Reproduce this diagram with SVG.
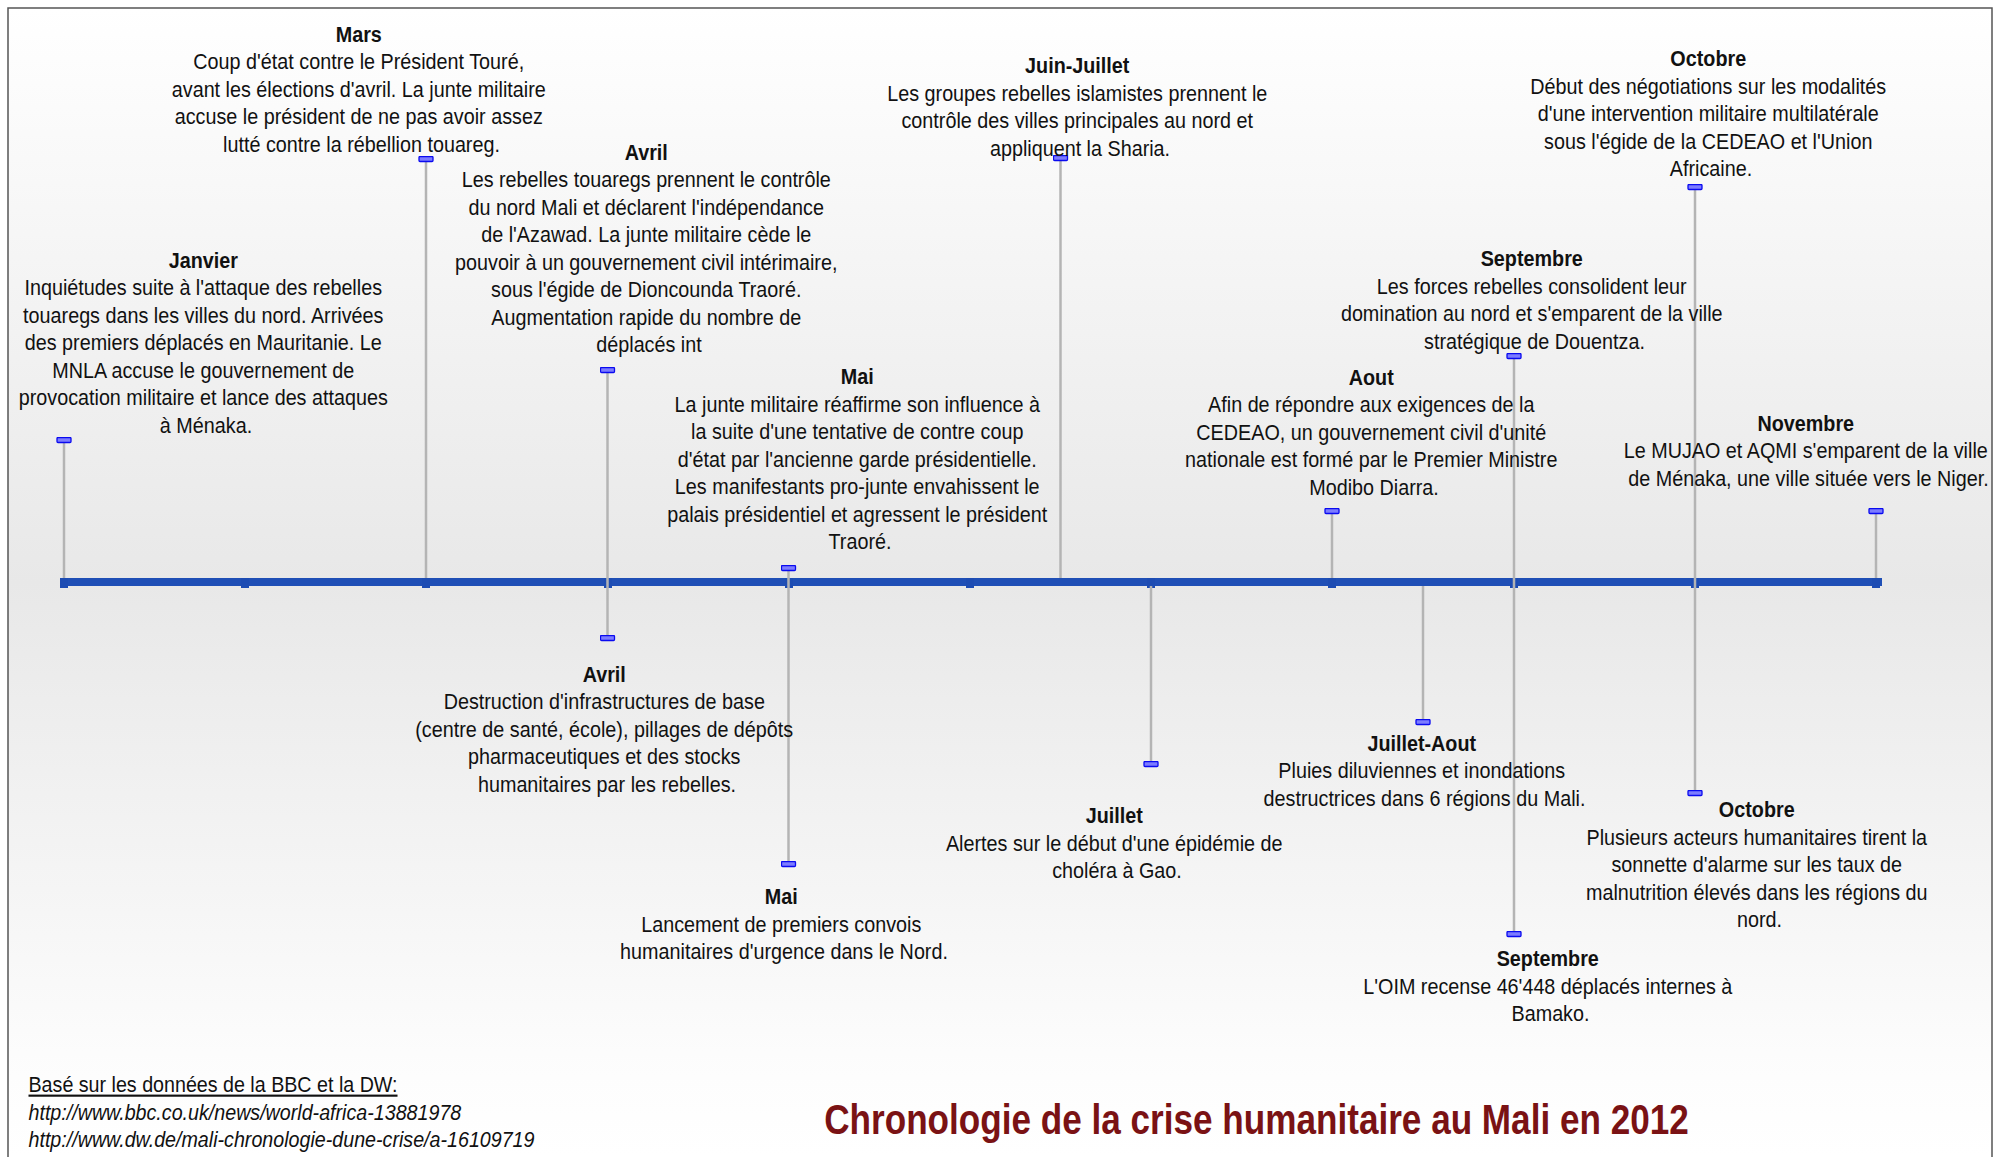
<svg xmlns="http://www.w3.org/2000/svg" width="2000" height="1157" viewBox="0 0 2000 1157">
<style>
text{font-family:"Liberation Sans",Arial,sans-serif;fill:#111;}
.b{font-size:21.5px;text-anchor:middle;}
.h{font-weight:bold;}
.stem{stroke:#b4b4b4;stroke-width:2.5;marker-end:url(#cap);}
.tick{fill:#1d4cb3;}
.ft{font-size:21.5px;}
.it{font-style:italic;}
.title{font-size:43px;font-weight:bold;fill:#7a1214;text-anchor:middle;}
</style>
<defs>
<linearGradient id="bg" gradientUnits="userSpaceOnUse" x1="0" y1="8" x2="0" y2="1157">
<stop offset="0" stop-color="#ffffff"/>
<stop offset="0.5" stop-color="#e8e8e8"/>
<stop offset="0.93" stop-color="#fdfdfd"/>
<stop offset="1" stop-color="#ffffff"/>
</linearGradient>
<marker id="cap" viewBox="0 0 16 7" refX="8" refY="3.5" markerWidth="16" markerHeight="7" markerUnits="userSpaceOnUse" orient="0">
<rect x="1" y="1" width="14" height="5" rx="1" fill="#7c7cff" stroke="#0a0af0" stroke-width="1.3"/>
</marker>
</defs>
<rect x="0" y="0" width="2000" height="1157" fill="#ffffff"/>
<rect x="8" y="8" width="1984" height="1160" fill="url(#bg)" stroke="#555" stroke-width="1.5"/>

<g id="axis">
<rect x="60" y="578" width="1822" height="8" fill="#1f4fb6"/>
<rect class="tick" x="60" y="578" width="8" height="10"/>
<rect class="tick" x="241" y="578" width="8" height="10"/>
<rect class="tick" x="422" y="578" width="8" height="10"/>
<rect class="tick" x="604" y="578" width="8" height="10"/>
<rect class="tick" x="785" y="578" width="8" height="10"/>
<rect class="tick" x="966" y="578" width="8" height="10"/>
<rect class="tick" x="1147" y="578" width="8" height="10"/>
<rect class="tick" x="1328" y="578" width="8" height="10"/>
<rect class="tick" x="1510" y="578" width="8" height="10"/>
<rect class="tick" x="1691" y="578" width="8" height="10"/>
<rect class="tick" x="1872" y="578" width="8" height="10"/>
</g>

<g id="connectors">
<line class="stem" x1="64" y1="578" x2="64" y2="440"/>
<line class="stem" x1="426" y1="578" x2="426" y2="159"/>
<line class="stem" x1="607.5" y1="582" x2="607.5" y2="370"/>
<line class="stem" x1="607.5" y1="582" x2="607.5" y2="638"/>
<line class="stem" x1="788.5" y1="582" x2="788.5" y2="568"/>
<line class="stem" x1="788.5" y1="582" x2="788.5" y2="864"/>
<line class="stem" x1="1060.5" y1="578" x2="1060.5" y2="158"/>
<line class="stem" x1="1151" y1="586" x2="1151" y2="764"/>
<line class="stem" x1="1332" y1="578" x2="1332" y2="511"/>
<line class="stem" x1="1423" y1="586" x2="1423" y2="722"/>
<line class="stem" x1="1514" y1="582" x2="1514" y2="356"/>
<line class="stem" x1="1514" y1="582" x2="1514" y2="934"/>
<line class="stem" x1="1695" y1="582" x2="1695" y2="187"/>
<line class="stem" x1="1695" y1="582" x2="1695" y2="793"/>
<line class="stem" x1="1876" y1="578" x2="1876" y2="511"/>
</g>

<g id="janvier"><text class="b" transform="translate(206,0) scale(0.92,1)">
<tspan class="h" x="0" y="268">Janvier</tspan>
<tspan x="0" y="295.5">Inquiétudes suite à l'attaque des rebelles</tspan>
<tspan x="0" y="323">touaregs dans les villes du nord. Arrivées</tspan>
<tspan x="0" y="350.5">des premiers déplacés en Mauritanie. Le</tspan>
<tspan x="0" y="378">MNLA accuse le gouvernement de</tspan>
<tspan x="0" y="405.5">provocation militaire et lance des attaques</tspan>
<tspan x="0" y="433">à Ménaka.</tspan>
</text></g>

<g id="mars"><text class="b" transform="translate(361.5,0) scale(0.92,1)">
<tspan class="h" x="0" y="42">Mars</tspan>
<tspan x="0" y="69.5">Coup d'état contre le Président Touré,</tspan>
<tspan x="0" y="97">avant les élections d'avril. La junte militaire</tspan>
<tspan x="0" y="124.5">accuse le président de ne pas avoir assez</tspan>
<tspan x="0" y="152">lutté contre la rébellion touareg.</tspan>
</text></g>

<g id="avril-haut"><text class="b" transform="translate(649,0) scale(0.92,1)">
<tspan class="h" x="0" y="160">Avril</tspan>
<tspan x="0" y="187.5">Les rebelles touaregs prennent le contrôle</tspan>
<tspan x="0" y="215">du nord Mali et déclarent l'indépendance</tspan>
<tspan x="0" y="242.5">de l'Azawad. La junte militaire cède le</tspan>
<tspan x="0" y="270">pouvoir à un gouvernement civil intérimaire,</tspan>
<tspan x="0" y="297.5">sous l'égide de Dioncounda Traoré.</tspan>
<tspan x="0" y="325">Augmentation rapide du nombre de</tspan>
<tspan x="0" y="352.5">déplacés int</tspan>
</text></g>

<g id="mai-haut"><text class="b" transform="translate(860,0) scale(0.92,1)">
<tspan class="h" x="0" y="384.5">Mai</tspan>
<tspan x="0" y="412">La junte militaire réaffirme son influence à</tspan>
<tspan x="0" y="439.5">la suite d'une tentative de contre coup</tspan>
<tspan x="0" y="467">d'état par l'ancienne garde présidentielle.</tspan>
<tspan x="0" y="494.5">Les manifestants pro-junte envahissent le</tspan>
<tspan x="0" y="522">palais présidentiel et agressent le président</tspan>
<tspan x="0" y="549.5">Traoré.</tspan>
</text></g>

<g id="juin-juillet"><text class="b" transform="translate(1080,0) scale(0.92,1)">
<tspan class="h" x="0" y="73.5">Juin-Juillet</tspan>
<tspan x="0" y="101">Les groupes rebelles islamistes prennent le</tspan>
<tspan x="0" y="128.5">contrôle des villes principales au nord et</tspan>
<tspan x="0" y="156">appliquent la Sharia.</tspan>
</text></g>

<g id="aout"><text class="b" transform="translate(1374,0) scale(0.92,1)">
<tspan class="h" x="0" y="385">Aout</tspan>
<tspan x="0" y="412.5">Afin de répondre aux exigences de la</tspan>
<tspan x="0" y="440">CEDEAO, un gouvernement civil d'unité</tspan>
<tspan x="0" y="467.5">nationale est formé par le Premier Ministre</tspan>
<tspan x="0" y="495">Modibo Diarra.</tspan>
</text></g>

<g id="septembre-haut"><text class="b" transform="translate(1534.5,0) scale(0.92,1)">
<tspan class="h" x="0" y="266.5">Septembre</tspan>
<tspan x="0" y="294">Les forces rebelles consolident leur</tspan>
<tspan x="0" y="321.5">domination au nord et s'emparent de la ville</tspan>
<tspan x="0" y="349">stratégique de Douentza.</tspan>
</text></g>

<g id="octobre-haut"><text class="b" transform="translate(1711,0) scale(0.92,1)">
<tspan class="h" x="0" y="66.5">Octobre</tspan>
<tspan x="0" y="94">Début des négotiations sur les modalités</tspan>
<tspan x="0" y="121.5">d'une intervention militaire multilatérale</tspan>
<tspan x="0" y="149">sous l'égide de la CEDEAO et l'Union</tspan>
<tspan x="0" y="176.5">Africaine.</tspan>
</text></g>

<g id="novembre"><text class="b" transform="translate(1808.5,0) scale(0.92,1)">
<tspan class="h" x="0" y="431">Novembre</tspan>
<tspan x="0" y="458.5">Le MUJAO et AQMI s'emparent de la ville</tspan>
<tspan x="0" y="486">de Ménaka, une ville située vers le Niger.</tspan>
</text></g>

<g id="avril-bas"><text class="b" transform="translate(607,0) scale(0.92,1)">
<tspan class="h" x="0" y="682">Avril</tspan>
<tspan x="0" y="709.5">Destruction d'infrastructures de base</tspan>
<tspan x="0" y="737">(centre de santé, école), pillages de dépôts</tspan>
<tspan x="0" y="764.5">pharmaceutiques et des stocks</tspan>
<tspan x="0" y="792">humanitaires par les rebelles.</tspan>
</text></g>

<g id="mai-bas"><text class="b" transform="translate(784,0) scale(0.92,1)">
<tspan class="h" x="0" y="904.5">Mai</tspan>
<tspan x="0" y="932">Lancement de premiers convois</tspan>
<tspan x="0" y="959.5">humanitaires d'urgence dans le Nord.</tspan>
</text></g>

<g id="juillet"><text class="b" transform="translate(1117,0) scale(0.92,1)">
<tspan class="h" x="0" y="823.5">Juillet</tspan>
<tspan x="0" y="851">Alertes sur le début d'une épidémie de</tspan>
<tspan x="0" y="878.5">choléra à Gao.</tspan>
</text></g>

<g id="juillet-aout"><text class="b" transform="translate(1424.5,0) scale(0.92,1)">
<tspan class="h" x="0" y="751">Juillet-Aout</tspan>
<tspan x="0" y="778.5">Pluies diluviennes et inondations</tspan>
<tspan x="0" y="806">destructrices dans 6 régions du Mali.</tspan>
</text></g>

<g id="septembre-bas"><text class="b" transform="translate(1550.5,0) scale(0.92,1)">
<tspan class="h" x="0" y="966.5">Septembre</tspan>
<tspan x="0" y="994">L'OIM recense 46'448 déplacés internes à</tspan>
<tspan x="0" y="1021.5">Bamako.</tspan>
</text></g>

<g id="octobre-bas"><text class="b" transform="translate(1759.5,0) scale(0.92,1)">
<tspan class="h" x="0" y="817.5">Octobre</tspan>
<tspan x="0" y="845">Plusieurs acteurs humanitaires tirent la</tspan>
<tspan x="0" y="872.5">sonnette d'alarme sur les taux de</tspan>
<tspan x="0" y="900">malnutrition élevés dans les régions du</tspan>
<tspan x="0" y="927.5">nord.</tspan>
</text></g>

<g id="sources"><text class="ft" transform="translate(28.5,0) scale(0.915,1)">
<tspan x="0" y="1092.5" text-decoration="underline">Basé sur les données de la BBC et la DW:</tspan>
<tspan class="it" x="0" y="1120">http://www.bbc.co.uk/news/world-africa-13881978</tspan>
<tspan class="it" x="0" y="1147.5">http://www.dw.de/mali-chronologie-dune-crise/a-16109719</tspan>
</text></g>

<g id="titre"><text class="title" transform="translate(1256.5,1134) scale(0.817,1)" x="0" y="0">Chronologie de la crise humanitaire au Mali en 2012</text></g>
</svg>
